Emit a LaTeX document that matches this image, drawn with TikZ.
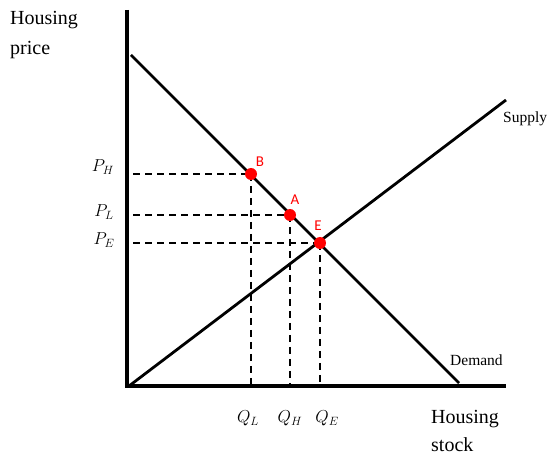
\documentclass[tikz,border=0pt]{standalone}
\usepackage{fontspec}
\setmainfont{Liberation Serif}
\newfontfamily\lblfont{Carlito}
\begin{document}
\begin{tikzpicture}[x=1pt,y=-1pt,
  axisline/.style={line width=4.5pt},
  curveline/.style={line width=2.8pt},
  guide/.style={line width=2pt, dash pattern=on 7pt off 5pt},
  dotpt/.style={circle, fill=red, inner sep=0pt, minimum size=12pt},
  ptlabel/.style={text=red, font=\lblfont\fontsize{15}{17}\selectfont, inner sep=0pt},
  axtext/.style={font=\fontsize{20}{24}\selectfont, inner sep=0pt, anchor=base west},
  curvetext/.style={font=\fontsize{15.5}{18}\selectfont, inner sep=0pt, anchor=base west},
  mathlbl/.style={font=\fontsize{17}{20}\selectfont, inner sep=0pt, anchor=base}]
\useasboundingbox (0,0) rectangle (547,457);
% axes
\coordinate (top) at (127,10);
\coordinate (origin) at (127,386);
\coordinate (right) at (506,386);
\draw[axisline] (top) -- (origin) -- (right);
% curves
\coordinate (d1) at (131,55);
\coordinate (d2) at (459,383);
\coordinate (s1) at (129,386);
\coordinate (s2) at (506,100);
\draw[curveline] (d1) -- (d2);
\draw[curveline] (s1) -- (s2);
% points
\coordinate (B) at (251,174);
\coordinate (A) at (290,215);
\coordinate (E) at (320,243);
% guides
\coordinate (hB) at (133,174);
\coordinate (hA) at (133,215);
\coordinate (hE) at (133,243);
\coordinate (vB) at (251,384);
\coordinate (vA) at (290,384);
\coordinate (vE) at (320,384);
\draw[guide] (hB) -- (B);
\draw[guide] (hA) -- (A);
\draw[guide] (hE) -- (E);
\draw[guide] (B) -- (vB);
\draw[guide] (A) -- (vA);
\draw[guide] (E) -- (vE);
\node[dotpt] (Bd) at (B) {};
\node[dotpt] (Ad) at (A) {};
\node[dotpt] (Ed) at (E) {};
\node[ptlabel] (Bl) at (260,162) {B};
\node[ptlabel] (Al) at (295,200) {A};
\node[ptlabel] (El) at (318,226) {E};
% axis labels
\node[axtext] (h1) at (10,25) {Housing};
\node[axtext] (h2) at (10,55) {price};
\node[axtext] (h3) at (431,424) {Housing};
\node[axtext] (h4) at (431,452) {stock};
\node[curvetext] (sup) at (503,123) {Supply};
\node[curvetext] (dem) at (450,366) {Demand};
% P labels
\node[mathlbl] (PH) at (103,172) {$P_H$};
\node[mathlbl] (PL) at (104,217) {$P_L$};
\node[mathlbl] (PE) at (104,245) {$P_E$};
% Q labels
\node[mathlbl] (QL) at (248,423) {$Q_L$};
\node[mathlbl] (QH) at (290,423) {$Q_H$};
\node[mathlbl] (QE) at (327,423) {$Q_E$};
\end{tikzpicture}
\end{document}
